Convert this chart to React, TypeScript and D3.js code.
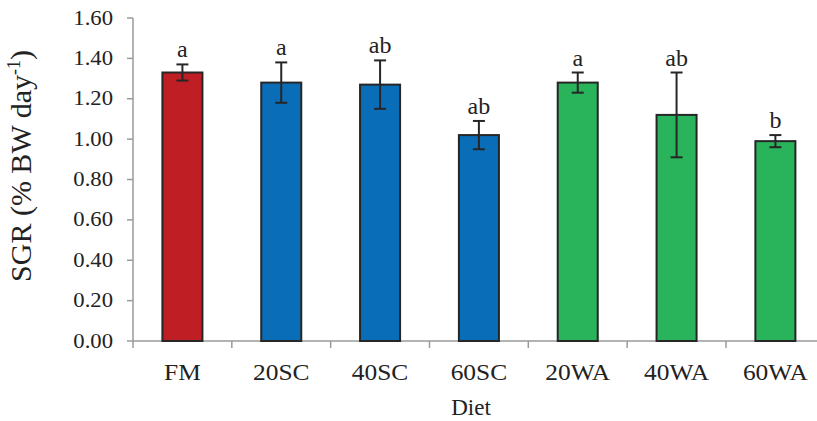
import React from "react";
import * as d3 from "d3";

const categories = ["FM", "20SC", "40SC", "60SC", "20WA", "40WA", "60WA"];
const values = [1.33, 1.28, 1.27, 1.02, 1.28, 1.12, 0.99];
const errors = [0.04, 0.1, 0.12, 0.07, 0.05, 0.21, 0.03];
const letters = ["a", "a", "ab", "ab", "a", "ab", "b"];
const groups = ["FM", "SC", "SC", "SC", "WA", "WA", "WA"];
const yTicks = [0, 0.2, 0.4, 0.6, 0.8, 1.0, 1.2, 1.4, 1.6];

const colors: Record<string, string> = { FM: "#BF1E24", SC: "#0A6DB8", WA: "#29B35A" };

const W = 817;
const H = 421;
const left = 133;
const step = 98.83;
const top = 18;
const bottom = 341;
const font = "'Liberation Serif', 'Times New Roman', serif";

export default function App() {
  const x = d3
    .scaleBand<string>()
    .domain(categories)
    .range([left, left + step * categories.length])
    .paddingInner(0.595)
    .paddingOuter(0.2975);
  const y = d3.scaleLinear().domain([0, 1.6]).range([bottom, top]);
  const boundaries = d3.range(categories.length + 1).map((i) => left + i * x.step());
  const axisColor = "#9a9a9a";
  return (
    <svg width={W} height={H} style={{ position: "absolute", left: 0, top: 0 }}>
      <rect width={W} height={H} fill="#fff" />
      {/* y axis */}
      <line x1={left} x2={left} y1={y(1.6)} y2={bottom} stroke={axisColor} strokeWidth={1.5} />
      {yTicks.map((t) => (
        <g key={t}>
          <line x1={left - 6} x2={left} y1={y(t)} y2={y(t)} stroke={axisColor} strokeWidth={1.5} />
          <text
            transform={`translate(113, ${y(t) + 6.5}) scale(1.08, 1)`}
            textAnchor="end"
            fontFamily={font}
            fontSize={21}
            fill="#222"
          >
            {t.toFixed(2)}
          </text>
        </g>
      ))}
      {/* x axis */}
      <line x1={left} x2={W} y1={bottom} y2={bottom} stroke={axisColor} strokeWidth={1.5} />
      {boundaries.map((b, i) => (
        <line key={i} x1={b} x2={b} y1={bottom} y2={bottom + 7} stroke={axisColor} strokeWidth={1.5} />
      ))}
      {/* bars */}
      {categories.map((c, i) => {
        const bx = x(c)!;
        const cx = bx + x.bandwidth() / 2;
        const v = values[i];
        const e = errors[i];
        return (
          <g key={c}>
            <rect
              x={bx}
              y={y(v)}
              width={x.bandwidth()}
              height={bottom - y(v)}
              fill={colors[groups[i]]}
              stroke="#262626"
              strokeWidth={2}
            />
            <line x1={cx} x2={cx} y1={y(v + e)} y2={y(v - e)} stroke="#262626" strokeWidth={2} />
            <line x1={cx - 6} x2={cx + 6} y1={y(v + e)} y2={y(v + e)} stroke="#262626" strokeWidth={2} />
            <line x1={cx - 6} x2={cx + 6} y1={y(v - e)} y2={y(v - e)} stroke="#262626" strokeWidth={2} />
            <text
              x={cx}
              y={y(v + e) - 7}
              textAnchor="middle"
              fontFamily={font}
              fontSize={24}
              fill="#222"
            >
              {letters[i]}
            </text>
            <text
              transform={`translate(${cx}, 380) scale(1.06, 1)`}
              textAnchor="middle"
              fontFamily={font}
              fontSize={24}
              fill="#222"
            >
              {c}
            </text>
          </g>
        );
      })}
      <text x={471} y={415} textAnchor="middle" fontFamily={font} fontSize={23} fill="#222">
        Diet
      </text>
      <text
        transform={`translate(31, 166) rotate(-90)`}
        textAnchor="middle"
        fontFamily={font}
        fontSize={30}
        fill="#222"
      >
        SGR (% BW day
        <tspan dy={-11} fontSize={18}>-1</tspan>
        <tspan dy={11}>)</tspan>
      </text>
    </svg>
  );
}
